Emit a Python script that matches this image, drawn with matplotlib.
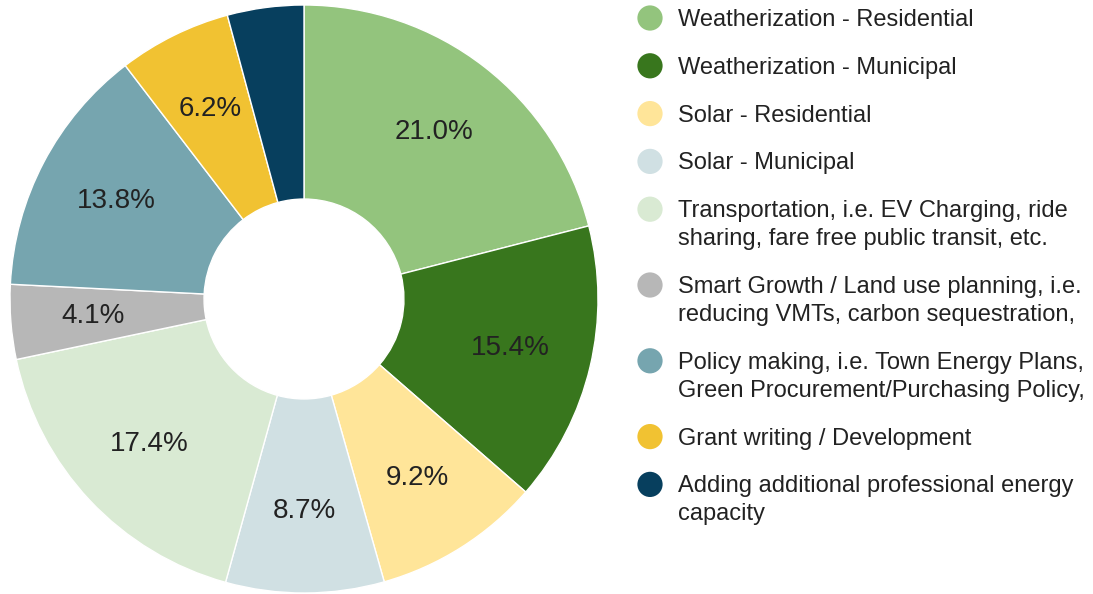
import matplotlib
matplotlib.use("Agg")
import matplotlib.pyplot as plt
import numpy as np

# -----------------------------
# Data
# -----------------------------
categories = [
    "Weatherization - Residential",
    "Weatherization - Municipal",
    "Solar - Residential",
    "Solar - Municipal",
    "Transportation, i.e. EV Charging, ride\nsharing, fare free public transit, etc.",
    "Smart Growth / Land use planning, i.e.\nreducing VMTs, carbon sequestration,",
    "Policy making, i.e. Town Energy Plans,\nGreen Procurement/Purchasing Policy,",
    "Grant writing / Development",
    "Adding additional professional energy\ncapacity",
]
shares = [21.0, 15.4, 9.2, 8.7, 17.4, 4.1, 13.8, 6.2, 4.2]
show_label = [True, True, True, True, True, True, True, True, False]
colors = ["#93c47d", "#38761d", "#ffe599", "#d0e0e3", "#d9ead3",
          "#b7b7b7", "#76a5af", "#f1c232", "#073f5e"]

plt.rcParams["font.family"] = ["Liberation Sans", "DejaVu Sans"]

W, H = 1093, 594
fig = plt.figure(figsize=(W / 100, H / 100), dpi=100)

# -----------------------------
# Legend (drawn in pixel coords)
# -----------------------------
lax = fig.add_axes([0, 0, 1, 1])
lax.set_xlim(0, W)
lax.set_ylim(H, 0)
lax.axis("off")

y = 18
for label, color in zip(categories, colors):
    extra = label.count("\n")
    lax.scatter([650], [y], s=330, color=color, edgecolors="none")
    # baseline of a multi-line text is its last line
    lax.text(678, y + 8 + 28 * extra, label, fontsize=17, color="#222222",
             va="baseline", ha="left", linespacing=1.35)
    y += 47.8 + 28 * extra

# -----------------------------
# Donut
# -----------------------------
cx, cy, r = 304, 299, 294
ax = fig.add_axes([(cx - r) / W, (H - cy - r) / H, 2 * r / W, 2 * r / H])
wedges, _ = ax.pie(
    shares,
    colors=colors,
    startangle=90,
    counterclock=False,
    radius=1,
    wedgeprops=dict(width=0.66, edgecolor="white", linewidth=1),
)
total = sum(shares)
for w, v, show in zip(wedges, shares, show_label):
    if not show:
        continue
    ang = np.deg2rad((w.theta1 + w.theta2) / 2)
    ax.text(0.72 * np.cos(ang), 0.72 * np.sin(ang), f"{v / total * 100:.1f}%",
            ha="center", va="center", fontsize=20, color="#222222")
ax.set_xlim(-1, 1)
ax.set_ylim(-1, 1)
ax.set_aspect("equal")
ax.axis("off")

fig.savefig("out.png", dpi=100)
